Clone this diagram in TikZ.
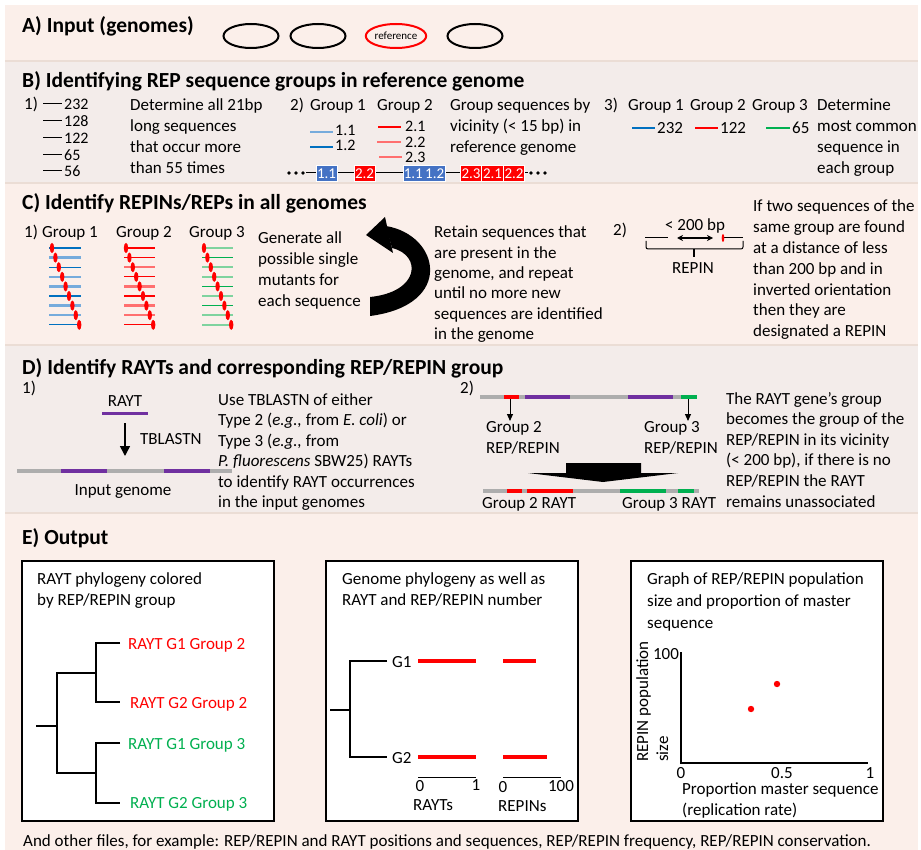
\documentclass[tikz,border=0pt]{standalone}
\usepackage{fontspec}
\setmainfont{Carlito}
\usetikzlibrary{arrows.meta,shapes.geometric}
\definecolor{peach}{HTML}{FBEFEA}
\definecolor{grayband}{HTML}{F3ECEA}
\definecolor{sepline}{HTML}{EBDDD5}
\definecolor{rred}{HTML}{FF0000}
\definecolor{lred}{HTML}{FF6F6F}
\definecolor{bblue}{HTML}{0070C0}
\definecolor{lblue}{HTML}{76ABDC}
\definecolor{boxblue}{HTML}{4472C4}
\definecolor{ggreen}{HTML}{00B050}
\definecolor{lgreen}{HTML}{7FD39F}
\definecolor{purp}{HTML}{7030A0}
\definecolor{gline}{HTML}{ADADAD}
\begin{document}
\begin{tikzpicture}[x=1pt,y=-1pt,
  txt/.style={font=\fontsize{17}{21}\selectfont, inner sep=0pt, anchor=base west},
  numtxt/.style={font=\fontsize{16}{18}\selectfont, inner sep=0pt, anchor=base west},
  ctxt/.style={font=\fontsize{17}{21}\selectfont, inner sep=0pt, anchor=base},
  ttl/.style={font=\fontsize{21.5}{25}\selectfont\bfseries, inner sep=0pt, anchor=base west},
  genome/.style={ellipse, draw, line width=2pt, minimum width=55pt, minimum height=24pt, inner sep=0pt},
  seqbox/.style={font=\fontsize{15}{16}\selectfont, text=white, inner sep=0pt, minimum height=16pt, draw=white, line width=0.6pt},
  outbox/.style={draw=black, fill=white, line width=1.7pt},
  tree/.style={draw=black, line width=1.1pt},
  gbar/.style={line width=3.5pt},
  rbar/.style={draw=rred, line width=4pt},
  marker/.style={fill=rred}
]
\useasboundingbox (0,0) rectangle (921,850);
\fill[white] (0,0) rectangle (921,850);
% ---------- bands
\fill[peach] (5,5) rectangle (918,61);
\fill[grayband] (5,61) rectangle (918,183);
\fill[peach] (5,183) rectangle (918,345);
\fill[grayband] (5,345) rectangle (918,513);
\fill[peach] (5,513) rectangle (918,850);
\foreach \yy in {61,183,345,513} \draw[sepline, line width=2pt] (5,\yy) -- (918,\yy);

% ---------- A
\node[ttl] (atitle) at (22,33) {A) Input (genomes)};
\node[genome] (g1) at (251,36) {};
\node[genome] (g2) at (318,36) {};
\node[genome, draw=rred, font=\fontsize{11}{12}\selectfont] (gref) at (396,36) {reference};
\node[genome] (g4) at (475,36) {};

% ---------- B
\node[ttl] (btitle) at (22,88) {B) Identifying REP sequence groups in reference genome};
\node[txt] (bone) at (24,110) {1)};
\foreach \r/\n [count=\i] in {104/232,121/128,138/122,155/65,171/56}{
  \draw[line width=1pt] (43,\r) -- (62,\r);
  \node[numtxt] (bl\i) at (64,\r+5.5) {\n};
}
\foreach \t [count=\i from 0] in {{Determine all 21bp},{long sequences},{that occur more},{than 55 times}}
  \node[txt] (bonet\i) at (130,111+21*\i) {\t};

\node[txt] (btwo) at (290,111) {2)};
\node[txt] (bg1) at (310,111) {Group 1};
\node[txt] (bg2) at (377,111) {Group 2};
\draw[lblue, line width=2pt] (310,132) -- (333,132);
\node[numtxt] (b11) at (335,135.5) {1.1};
\draw[bblue, line width=1.2pt] (310,147) -- (333,147);
\node[numtxt] (b12) at (335,150.5) {1.2};
\draw[rred, line width=1.2pt] (378,127) -- (401,127);
\node[numtxt] (b21) at (405,132) {2.1};
\draw[lred, line width=2pt] (377,142) -- (401,142);
\node[numtxt] (b22) at (405,148) {2.2};
\draw[lred, line width=1.6pt] (379,157) -- (402,157);
\node[numtxt] (b23) at (405,163) {2.3};
\foreach \t [count=\i from 0] in {{Group sequences by},{vicinity (< 15 bp) in},{reference genome}}
  \node[txt] (btwot\i) at (450,111+21*\i) {\t};
% genome line with boxes
\coordinate (gl) at (306,173);
\coordinate (gr) at (528,173);
\draw[line width=1pt] (gl) -- (gr);
\foreach \xx [count=\i] in {289,296,303,531,538,545} \fill (\xx,173) circle (1.9);
\node[seqbox, fill=boxblue, minimum width=21pt] (s1) at (326.5,173.5) {1.1};
\node[seqbox, fill=rred, minimum width=21pt] (s2) at (364.5,173.5) {2.2};
\node[seqbox, fill=boxblue, minimum width=42pt] (s3) at (424,173.5) {1.1\,1.2};
\node[seqbox, fill=rred, minimum width=21.5pt] (s4) at (471,173.5) {2.3};
\node[seqbox, fill=rred, minimum width=21.5pt] (s5) at (492.5,173.5) {2.1};
\node[seqbox, fill=rred, minimum width=21.5pt] (s6) at (514,173.5) {2.2};

\node[txt] (bthree) at (604,111) {3)};
\node[txt] (b3g1) at (628,111) {Group 1};
\node[txt] (b3g2) at (690,111) {Group 2};
\node[txt] (b3g3) at (752,111) {Group 3};
\draw[bblue, line width=1.2pt] (632,128) -- (655,128);
\node[txt] (b3n1) at (657,134) {232};
\draw[rred, line width=1.2pt] (695,128) -- (718,128);
\node[txt] (b3n2) at (720,134) {122};
\draw[ggreen, line width=1.2pt] (766,128) -- (790,128);
\node[txt] (b3n3) at (792,134) {65};
\foreach \t [count=\i from 0] in {{Determine},{most common},{sequence in},{each group}}
  \node[txt] (bthreet\i) at (817,111+21*\i) {\t};

% ---------- C
\node[ttl] (ctitle) at (22,210) {C) Identify REPINs/REPs in all genomes};
\node[txt] (cone) at (24,238) {1)};
\node[txt] (cg1) at (42,238) {Group 1};
\node[txt] (cg2) at (116,238) {Group 2};
\node[txt] (cg3) at (189,238) {Group 3};
\foreach \i/\ca/\wa/\cb/\wb/\cc/\wc in {0/bblue/1.2/rred/1.2/lgreen/2.4,
    1/lblue/2.4/rred/1.2/ggreen/1.2,
    2/bblue/1.2/lred/2.4/lgreen/2.4,
    3/lblue/2.4/rred/1.2/lgreen/2.4,
    4/lblue/2.4/lred/2.4/ggreen/1.2,
    5/bblue/1.2/rred/1.2/lgreen/2.4,
    6/lblue/2.4/lred/2.4/ggreen/1.2,
    7/lblue/2.4/lred/2.4/lgreen/2.4,
    8/bblue/1.2/rred/1.2/lgreen/2.4}{
  \draw[\ca, line width=\wa pt] (49,248+9.6*\i) -- (81,248+9.6*\i);
  \draw[\cb, line width=\wb pt] (124,248+9.6*\i) -- (155,248+9.6*\i);
  \draw[\cc, line width=\wc pt] (202,248+9.6*\i) -- (233,248+9.6*\i);
  \fill[marker] (52+3.4*\i,248+9.6*\i) ellipse (2.2 and 5);
  \fill[marker] (126+3.4*\i,248+9.6*\i) ellipse (2.2 and 5);
  \fill[marker] (204+3.4*\i,248+9.6*\i) ellipse (2.2 and 5);
}
\foreach \t [count=\i from 0] in {{Generate all},{possible single},{mutants for},{each sequence}}
  \node[txt] (cgent\i) at (258,244+21*\i) {\t};
% curved arrow
\fill (366,235) -- (385,217) -- (393,253) -- cycle;
\fill (386,226) .. controls (440,235) and (455,305) .. (370,316)
  -- (370,297) .. controls (420,292) and (422,255) .. (392,248) -- cycle;
\foreach \t [count=\i from 0] in {{Retain sequences that},{are present in the},{genome, and repeat},{until no more new},{sequences are identified},{in the genome}}
  \node[txt] (cret\i) at (434,238+20.3*\i) {\t};
\node[txt] (ctwo) at (613,236) {2)};
\node[ctxt] (cdist) at (695,231) {< 200 bp};
\draw[line width=1pt] (645,238) -- (668,238);
\draw[line width=1pt] (722,238) -- (743,238);
\draw[{Stealth[length=6pt,width=6pt]}-{Stealth[length=6pt,width=6pt]}, line width=1.3pt] (677,238) -- (713,238);
\fill[rred] (723,238) ellipse (1.3 and 4);
\draw[line width=1pt, rounded corners=2pt] (646,241) -- (646,249) -- (743,249) -- (743,241);
\draw[line width=1.8pt] (694,249) -- (694,257);
\node[ctxt] (crepin) at (693,274) {REPIN};
\foreach \t [count=\i from 0] in {{If two sequences of the},{same group are found},{at a distance of less},{than 200 bp and in},{inverted orientation},{then they are},{designated a REPIN}}
  \node[txt] (cif\i) at (753,212+20.8*\i) {\t};

% ---------- D
\node[ttl] (dtitle) at (22,374) {D) Identify RAYTs and corresponding REP/REPIN group};
\node[txt] (done) at (22,393) {1)};
\node[ctxt] (draytl) at (125,406) {RAYT};
\draw[purp, line width=3pt] (102,413) -- (148,413);
\coordinate (dat) at (125,423);
\coordinate (dab) at (125,456);
\draw[-{Triangle[length=10pt,width=10pt]}, line width=1.5pt] (dat) -- (dab);
\node[txt] (dtbl) at (140,444) {TBLASTN};
\draw[gline, gbar] (17,471) -- (232,471);
\draw[purp, gbar] (61,471) -- (107,471);
\draw[purp, gbar] (164,471) -- (210,471);
\node[ctxt] (dinput) at (123,495) {Input genome};
\foreach \t [count=\i from 0] in {{Use TBLASTN of either},{Type 2 (\textit{e.g.,} from \textit{E. coli}) or},{Type 3 (\textit{e.g.,} from},{\textit{P. fluorescens} SBW25) RAYTs},{to identify RAYT occurrences},{in the input genomes}}
  \node[txt] (duse\i) at (218,405+20.5*\i) {\t};

\node[txt] (dtwo) at (460,393) {2)};
\draw[gline, gbar] (480,397) -- (697,397);
\draw[rred, gbar] (504,397) -- (519,397);
\draw[purp, gbar] (525,397) -- (570,397);
\draw[purp, gbar] (628,397) -- (673,397);
\draw[ggreen, gbar] (681,397) -- (697,397);
\coordinate (da1) at (510,399);
\coordinate (da1e) at (510,421);
\coordinate (da2) at (688,399);
\coordinate (da2e) at (688,421);
\draw[-{Triangle[length=7pt,width=6pt]}, line width=1pt] (da1) -- (da1e);
\draw[-{Triangle[length=7pt,width=6pt]}, line width=1pt] (da2) -- (da2e);
\node[txt] (dg2) at (486,432) {Group 2};
\node[txt] (dr2) at (486,453) {REP/REPIN};
\node[txt] (dg3) at (644,432) {Group 3};
\node[txt] (dr3) at (644,453) {REP/REPIN};
\fill (566,463) -- (641,463) -- (641,473) -- (678,473) -- (603,482) -- (528,473) -- (566,473) -- cycle;
\draw[gline, gbar] (483,491) -- (699,491);
\draw[rred, gbar] (507,491) -- (522,491);
\draw[rred, gbar] (527,491) -- (573,491);
\draw[ggreen, gbar] (620,491) -- (666,491);
\draw[ggreen, gbar] (678,491) -- (694,491);
\node[txt] (dgr2) at (482,508) {Group 2 RAYT};
\node[txt] (dgr3) at (622,508) {Group 3 RAYT};
\foreach \t [count=\i from 0] in {{The RAYT gene’s group},{becomes the group of the},{REP/REPIN in its vicinity},{(< 200 bp), if there is no},{REP/REPIN the RAYT},{remains unassociated}}
  \node[txt] (dthe\i) at (726,404+20.6*\i) {\t};

% ---------- E
\node[ttl] (etitle) at (22,544) {E) Output};
% box 1
\draw[outbox] (22,561) rectangle (274,821);
\node[txt] (e1a) at (37,584) {RAYT phylogeny colored};
\node[txt] (e1b) at (37,605) {by REP/REPIN group};
\draw[tree] (36,726) -- (57,726);
\draw[tree] (96,673) -- (57,673) -- (57,773) -- (96,773);
\draw[tree] (120,643) -- (96,643) -- (96,702) -- (120,702);
\draw[tree] (120,743) -- (96,743) -- (96,803) -- (120,803);
\node[txt, text=rred] (l1) at (128,649) {RAYT G1 Group 2};
\node[txt, text=rred] (l2) at (130,708) {RAYT G2 Group 2};
\node[txt, text=ggreen] (l3) at (128,749) {RAYT G1 Group 3};
\node[txt, text=ggreen] (l4) at (130,808) {RAYT G2 Group 3};
% box 2
\draw[outbox] (326,561) rectangle (578,821);
\node[txt] (e2a) at (342,584) {Genome phylogeny as well as};
\node[txt] (e2b) at (342,605) {RAYT and REP/REPIN number};
\draw[tree] (330,710) -- (350,710);
\draw[tree] (387,661) -- (350,661) -- (350,757) -- (387,757);
\node[txt] (eg1) at (392,667) {G1};
\node[txt] (eg2) at (392,763) {G2};
\draw[rbar] (418,661) -- (476,661);
\draw[rbar] (503,661) -- (536,661);
\draw[rbar] (418,757) -- (476,757);
\draw[rbar] (503,757) -- (547,757);
\draw[line width=1pt] (418,777) -- (476,777);
\draw[line width=1pt] (503,777) -- (561,777);
\node[ctxt] (ex0) at (420,791.5) {0};
\node[ctxt] (ex1) at (476,790.5) {1};
\node[txt] (exr) at (413,810) {RAYTs};
\node[ctxt] (ey0) at (503,792) {0};
\node[ctxt] (ey1) at (561,791) {100};
\node[txt] (eyr) at (498,811) {REPINs};
% box 3
\draw[outbox] (631,561) rectangle (883,821);
\node[txt] (e3a) at (647,584) {Graph of REP/REPIN population};
\node[txt] (e3b) at (647,606) {size and proportion of master};
\node[txt] (e3c) at (647,628) {sequence};
\draw[line width=1.2pt] (681,652) -- (681,763) -- (868,763);
\node[ctxt] (e100) at (666,659) {100};
\node[ctxt] (ez0) at (681,778) {0};
\node[ctxt] (ez5) at (782,778) {0.5};
\node[ctxt] (ez1) at (870,778) {1};
\node[txt] (eprop) at (682,794) {Proportion master sequence};
\node[txt] (erep) at (682,815) {(replication rate)};
\node[txt, rotate=90] (erot1) at (648,762) {REPIN population};
\node[txt, rotate=90] (erot2) at (668,762) {size};
\fill[rred] (777,684) circle (3.2);
\fill[rred] (751,709) circle (3.2);

% footer
\node[txt] (footer) at (23,846) {And other files, for example: REP/REPIN and RAYT positions and sequences, REP/REPIN frequency, REP/REPIN conservation.};
\end{tikzpicture}
\end{document}
